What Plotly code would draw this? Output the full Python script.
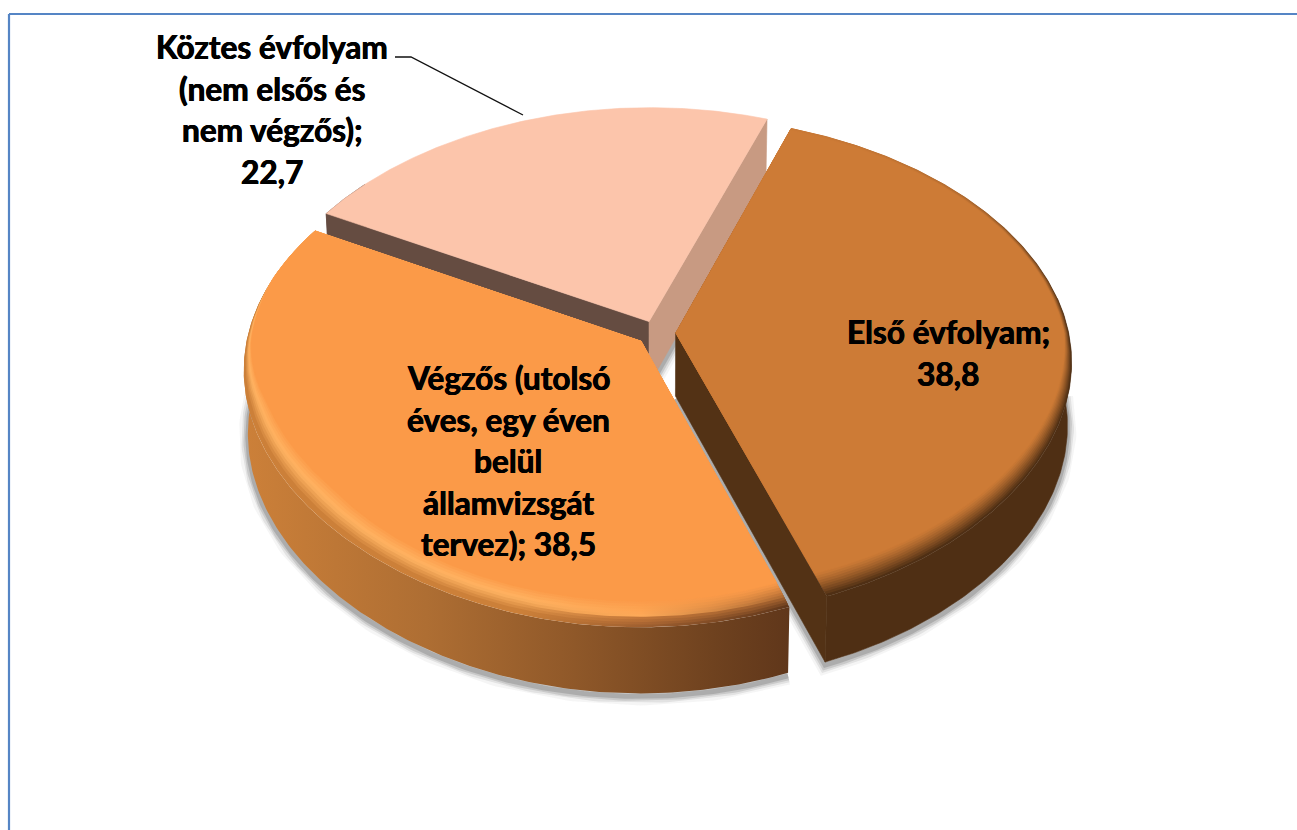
import numpy as np
import plotly.graph_objects as go

# ---- data ----
categories = ["Első évfolyam", "Végzős (utolsó éves, egy éven belül államvizsgát tervez)",
              "Köztes évfolyam (nem elsős és nem végzős)"]
values = [38.8, 38.5, 22.7]
label_lines = [
    ["Első évfolyam;", "38,8"],
    ["Végzős (utolsó", "éves, egy éven", "belül", "államvizsgát", "tervez); 38,5"],
    ["Köztes évfolyam", "(nem elsős és", "nem végzős);", "22,7"],
]
label_centres = [(948, 332), (508, 378), (272, 47)]
LINE_GAP = 41.5
FONT_SIZE = 31.6

top_colors = ["#CD7B36", "#FB9A48", "#FCC5AB"]
arc_colors = ["#4F2F14", None, "#654C41"]
wall_start = [None, None, "#654C41"]
wall_end = ["#533215", None, "#C89A82"]

# ---- projection of the tilted disc ----
START = 20
PULL = 0.05
CX, CY = 656, 333
R, S, K = 393, 245.5, 0.134
KX1, KX2 = 0.12, 0.03
DEPTH = 63
NPTS = 200


def proj(u, v):
    return CX + R * u / (1 - KX1 * v + KX2 * v * v), CY + S * v / (1 - K * v)


def lower(x, y, v):
    return CX + (x - CX) * 0.99, y + DEPTH + 3 * v


def hex2rgb(h):
    return np.array([int(h[i:i + 2], 16) for i in (1, 3, 5)], float)


def mix(a, b, t):
    c = hex2rgb(a) * (1 - t) + hex2rgb(b) * t
    return "rgb(%d,%d,%d)" % tuple(np.round(c))


shares = np.array(values) / sum(values) * 360
starts = START + np.concatenate([[0], np.cumsum(shares)[:-1]])
slices = []
for a0, da in zip(starts, shares):
    mid = np.radians(a0 + da / 2)
    ou, ov = PULL * np.sin(mid), -PULL * np.cos(mid)
    th = np.radians(np.linspace(a0, a0 + da, NPTS))
    slices.append((ou, ov, th))


def arc(i, r=1.0):
    ou, ov, th = slices[i]
    u, v = ou + r * np.sin(th), ov - r * np.cos(th)
    x, y = proj(u, v)
    return x, y, v


def apex(i):
    ou, ov, _ = slices[i]
    x, y = proj(np.array([ou]), np.array([ov]))
    return x, y, np.array([ov])


fig = go.Figure()


def poly(x, y, color=None, gradient=None):
    kw = dict(fillcolor=color) if gradient is None else dict(fillgradient=gradient)
    fig.add_trace(go.Scatter(x=np.append(x, x[0]), y=np.append(y, y[0]), mode="lines", fill="toself",
                             line=dict(width=0.6, color=color or "rgba(0,0,0,0)"),
                             hoverinfo="skip", showlegend=False, **kw))


def wall(x1, y1, v1):
    xb, yb = lower(x1, y1, v1)
    return np.concatenate([x1, xb[::-1]]), np.concatenate([y1, yb[::-1]])


# soft shadow beneath the walls
for i in (0, 1, 2):
    x, y, v = arc(i)
    ax, ay, av = apex(i)
    if i == 2:
        xb, yb = lower(np.array([ax[0], x[-1]]), np.array([ay[0], y[-1]]), np.array([av[0], v[-1]]))
    else:
        mask = v > -0.02
        xb, yb = lower(x[mask], y[mask], v[mask])
        if i == 0:
            axb, ayb = lower(ax, ay, av)
            xb, yb = np.append(xb, axb), np.append(yb, ayb)
    for w, a in ((18, 0.05), (13, 0.1), (9, 0.15), (5, 0.2)):
        fig.add_trace(go.Scatter(x=xb, y=yb + 3, mode="lines", hoverinfo="skip", showlegend=False,
                                 line=dict(width=w, color="rgba(60,60,60,%g)" % a)))


def rim_width(i, th):
    deg, vf = np.degrees(th), -np.cos(th)
    if i == 0:   # hairline at the back, narrow on the right, full at the front
        return np.clip(0.15 + 0.85 * vf, 0.15, 1)
    return np.clip(0.3 + 0.7 * vf / 0.6, 0.3, 1) * np.clip((285 - deg) / 30, 0, 1)


def draw_slice(i):
    x, y, v = arc(i)
    ax, ay, av = apex(i)
    # outer wall: only the part that can show past the top face
    if i == 0:
        keep = v > -0.15
    elif i == 2:
        keep = np.arange(NPTS) < NPTS * 0.12
    else:
        keep = np.ones(NPTS, bool)
    wx, wy = wall(x[keep], y[keep], v[keep])
    if i == 1:
        poly(wx, wy, gradient=dict(type="horizontal", start=245, stop=795, colorscale=[
            [0, "#CC8039"], [0.33, "#AE6E33"], [0.6, "#8F5829"], [0.85, "#6F421F"], [1, "#5F361A"]]))
    else:
        poly(wx, wy, arc_colors[i])
    # radial walls
    if wall_start[i]:
        wx, wy = wall(np.array([ax[0], x[0]]), np.array([ay[0], y[0]]), np.array([av[0], v[0]]))
        poly(wx, wy, wall_start[i])
    if wall_end[i]:
        wx, wy = wall(np.array([ax[0], x[-1]]), np.array([ay[0], y[-1]]), np.array([av[0], v[-1]]))
        poly(wx, wy, wall_end[i])
    # top face with bevelled rim
    if i == 2:
        poly(np.append(ax, x), np.append(ay, y), top_colors[2])
        return
    T = 10
    ou, ov, th = slices[i]
    w = rim_width(i, th)
    for k in range(T + 1):
        r = 1 - 0.08 * w * k / T
        t = 1 - k / T
        xr, yr = proj(ou + r * np.sin(th), ov - r * np.cos(th))
        px, py = np.append(ax, xr), np.append(ay, yr)
        if k == T:
            poly(px, py, top_colors[i])
        elif i == 0:
            side = "#4F2F14"
            grad = dict(type="vertical", start=130, stop=640, colorscale=[
                [0, mix(top_colors[0], side, 0.05 * t)], [0.12, mix(top_colors[0], side, 0.25 * t)],
                [0.25, mix(top_colors[0], side, 0.8 * t ** 1.3)], [0.4, mix(top_colors[0], side, t ** 1.3)],
                [1, mix(top_colors[0], side, t ** 1.3)]])
            poly(px, py, gradient=grad)
        else:
            hi = "#FFB362"
            left = mix(hi, "#CC8039", min(1, t / 0.45 - 1)) if t > 0.45 else mix(top_colors[1], hi, t / 0.45)
            right = mix(top_colors[1], "#5F361A", t ** 1.3)
            midc = mix(top_colors[1], "#A06030", t ** 1.3) if t > 0.6 else mix(top_colors[1], hi, t)
            grad = dict(type="horizontal", start=245, stop=795, colorscale=[
                [0, left], [0.5, left], [0.72, midc], [1, right]])
            poly(px, py, gradient=grad)


for i in (2, 0, 1):
    draw_slice(i)

# leader line
fig.add_trace(go.Scatter(x=[395, 411, 523], y=[57, 57, 115], mode="lines", hoverinfo="skip", showlegend=False,
                         line=dict(color="#111111", width=1.3)))

# labels
for lines, (cx, cy) in zip(label_lines, label_centres):
    for j, line in enumerate(lines):
        fig.add_annotation(x=cx, y=cy + j * LINE_GAP, text="<b>%s</b>" % line, showarrow=False,
                           xanchor="center", yanchor="middle",
                           font=dict(family="Lato", size=FONT_SIZE, color="#000000",
                                     shadow="0.4px 0 0 #000, -0.4px 0 0 #000"))

# chart frame: open to the right and the bottom
frame = dict(color="#5585C5", width=2.2)
fig.add_shape(type="line", xref="paper", yref="paper", x0=9 / 1297, x1=1, y0=1 - 14 / 830, y1=1 - 14 / 830, line=frame)
fig.add_shape(type="line", xref="paper", yref="paper", x0=9 / 1297, x1=9 / 1297, y0=0, y1=1 - 14 / 830, line=frame)

fig.update_layout(width=1297, height=830, margin=dict(l=0, r=0, t=0, b=0), paper_bgcolor="white",
                  plot_bgcolor="white", showlegend=False,
                  xaxis=dict(range=[0, 1297], visible=False, fixedrange=True),
                  yaxis=dict(range=[830, 0], visible=False, fixedrange=True))
fig.write_html("out.html", config=dict(displayModeBar=False),
               post_script="document.body.style.margin='0';document.body.style.overflow='hidden';")
